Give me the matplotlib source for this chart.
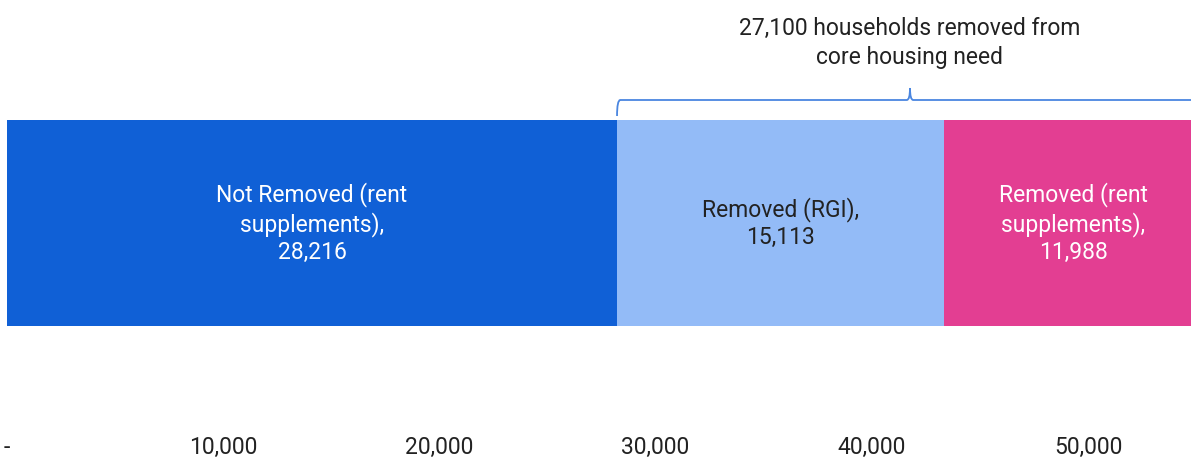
import matplotlib.pyplot as plt
from matplotlib.path import Path
from matplotlib.patches import PathPatch

# data
labels = ['Not Removed (rent\nsupplements),\n28,216',
          'Removed (RGI),\n15,113',
          'Removed (rent\nsupplements),\n11,988']
values = [28216, 15113, 11988]
colors = ['#1060D6', '#93BBF7', '#E33E92']
text_colors = ['white', '#222222', 'white']
brace_text = '27,100 households removed from\ncore housing need'
ticks = [0, 10000, 20000, 30000, 40000, 50000]
tick_labels = ['-', '10,000', '20,000', '30,000', '40,000', '50,000']

plt.rcParams['font.family'] = ['Roboto', 'DejaVu Sans']

W, H = 1191, 461
fig = plt.figure(figsize=(W / 100, H / 100), dpi=100)
ax = fig.add_axes([7 / W, 26 / H, 1 - 7 / W, 435 / H])

# y axis measured in pixels from the top of the figure
bar_y, bar_h = 223, 206
left = 0
for val, lab, col, tc in zip(values, labels, colors, text_colors):
    ax.barh(bar_y, val, left=left, height=bar_h, color=col, edgecolor='none')
    ax.text(left + val / 2, bar_y, lab, ha='center', va='center', color=tc,
            fontsize=16.5, linespacing=1.25)
    left += val

# brace over removed households
x0 = values[0]
x1 = sum(values)
xm = (x0 + x1) / 2
y_tip, y_h, y_pk = 116, 100, 88
dx = 150
verts = [(x0, y_tip), (x0, y_h), (x0 + dx, y_h),
         (xm - dx, y_h), (xm, y_h), (xm, y_pk),
         (xm, y_h), (xm + dx, y_h),
         (x1 - dx, y_h), (x1, y_h), (x1, y_tip)]
codes = [Path.MOVETO, Path.CURVE3, Path.CURVE3,
         Path.LINETO, Path.CURVE3, Path.CURVE3,
         Path.CURVE3, Path.CURVE3,
         Path.LINETO, Path.CURVE3, Path.CURVE3]
ax.add_patch(PathPatch(Path(verts, codes), fill=False, edgecolor='#4A86E0',
                       lw=1.3, clip_on=False))
ax.text(xm, 43, brace_text, ha='center', va='center', color='#222222',
        fontsize=16.5, linespacing=1.32)

ax.set_xlim(0, 54764)
ax.set_ylim(435, 0)
ax.set_xticks(ticks)
ax.set_xticklabels(tick_labels, fontsize=16.5, color='#222222')
ax.tick_params(axis='x', length=0, pad=1)
ax.set_yticks([])
for s in ax.spines.values():
    s.set_visible(False)

fig.savefig('out.png', dpi=100)
